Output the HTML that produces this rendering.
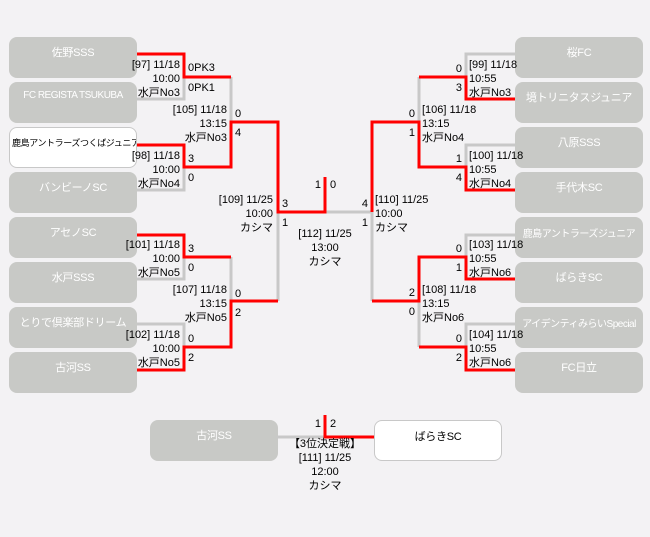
<!DOCTYPE html>
<html><head><meta charset="utf-8"><style>
html,body{margin:0;padding:0;background:#f3f2f4;}
body{width:650px;height:537px;position:relative;overflow:hidden;font-family:"Liberation Sans","Noto Sans CJK JP",sans-serif;}
.b{position:absolute;width:128px;height:41px;border-radius:8px;background:#c8c9c6;color:#fff;font-size:11px;text-align:center;box-sizing:border-box;padding-top:7px;white-space:nowrap;overflow:hidden;letter-spacing:-0.3px;}
.s{font-size:10px;letter-spacing:-0.5px;padding-top:8px;}
.w{background:#fff;border:1px solid #c8c8c8;color:#000;}
svg{position:absolute;left:0;top:0;}
svg text{font-family:"Liberation Sans","Noto Sans CJK JP",sans-serif;font-size:11px;fill:#000;}
</style></head><body>
<div class="b" style="left:9px;top:37px">佐野SSS</div>
<div class="b s" style="left:9px;top:82px">FC REGISTA TSUKUBA</div>
<div class="b w s" style="left:9px;top:127px;text-align:left;padding-left:2px;font-size:9px;letter-spacing:-0.4px">鹿島アントラーズつくばジュニア</div>
<div class="b" style="left:9px;top:172px">バンビーノSC</div>
<div class="b" style="left:9px;top:217px">アセノSC</div>
<div class="b" style="left:9px;top:262px">水戸SSS</div>
<div class="b" style="left:9px;top:307px">とりで倶楽部ドリーム</div>
<div class="b" style="left:9px;top:352px">古河SS</div>
<div class="b" style="left:515px;top:37px">桜FC</div>
<div class="b" style="left:515px;top:82px">境トリニタスジュニア</div>
<div class="b" style="left:515px;top:127px">八原SSS</div>
<div class="b" style="left:515px;top:172px">手代木SC</div>
<div class="b s" style="left:515px;top:217px">鹿島アントラーズジュニア</div>
<div class="b" style="left:515px;top:262px">ばらきSC</div>
<div class="b s" style="left:515px;top:307px">アイデンティみらいSpecial</div>
<div class="b" style="left:515px;top:352px">FC日立</div>
<div class="b" style="left:150px;top:420px">古河SS</div>
<div class="b w" style="left:374px;top:420px">ばらきSC</div>
<svg width="650" height="537" fill="none" stroke-width="3">
<g stroke="#c8c8c8">
<path d="M137 99H184V77"/><path d="M137 190H184V167"/><path d="M231 77V122"/>
<path d="M137 279H184V257"/><path d="M137 324H184V347"/><path d="M231 257V301"/>
<path d="M278 212V301"/><path d="M325 212H372V301"/>
<path d="M515 54H466V77"/><path d="M515 145H466V167"/><path d="M419 77V122"/>
<path d="M515 235H466V257"/><path d="M515 324H466V347"/><path d="M419 301V347"/>
<path d="M277 437H325"/>
</g>
<g stroke="#f00">
<path d="M137 54H184V77H231"/><path d="M137 145H184V167H231V122H278V212H325V177"/>
<path d="M137 235H184V257H231"/><path d="M137 370H184V347H231V301H278"/>
<path d="M515 99H466V77H419"/><path d="M515 190H466V167H419V122H372V212"/>
<path d="M515 279H466V257H419V301H372"/><path d="M515 370H466V347H419"/>
<path d="M325 415V437H374"/>
</g>
<g stroke="none">
<g text-anchor="end">
<text x="180" y="68">[97] 11/18</text><text x="180" y="82">10:00</text><text x="180" y="96">水戸No3</text>
<text x="180" y="159">[98] 11/18</text><text x="180" y="173">10:00</text><text x="180" y="187">水戸No4</text>
<text x="180" y="248">[101] 11/18</text><text x="180" y="262">10:00</text><text x="180" y="276">水戸No5</text>
<text x="180" y="338">[102] 11/18</text><text x="180" y="352">10:00</text><text x="180" y="366">水戸No5</text>
<text x="227" y="113">[105] 11/18</text><text x="227" y="127">13:15</text><text x="227" y="141">水戸No3</text>
<text x="227" y="293">[107] 11/18</text><text x="227" y="307">13:15</text><text x="227" y="321">水戸No5</text>
<text x="273" y="203">[109] 11/25</text><text x="273" y="217">10:00</text><text x="273" y="231">カシマ</text>
<text x="462" y="72">0</text><text x="462" y="91">3</text>
<text x="462" y="162">1</text><text x="462" y="181">4</text>
<text x="462" y="252">0</text><text x="462" y="271">1</text>
<text x="462" y="342">0</text><text x="462" y="361">2</text>
<text x="415" y="117">0</text><text x="415" y="136">1</text>
<text x="415" y="296">2</text><text x="415" y="315">0</text>
<text x="368" y="207">4</text><text x="368" y="226">1</text>
<text x="321" y="188">1</text><text x="321" y="427">1</text>
</g>
<text x="188" y="71">0PK3</text><text x="188" y="91">0PK1</text>
<text x="188" y="162">3</text><text x="188" y="181">0</text>
<text x="188" y="252">3</text><text x="188" y="271">0</text>
<text x="188" y="342">0</text><text x="188" y="361">2</text>
<text x="235" y="117">0</text><text x="235" y="136">4</text>
<text x="235" y="297">0</text><text x="235" y="316">2</text>
<text x="282" y="207">3</text><text x="282" y="226">1</text>
<text x="330" y="188">0</text><text x="330" y="427">2</text>
<text x="469" y="68">[99] 11/18</text><text x="469" y="82">10:55</text><text x="469" y="96">水戸No3</text>
<text x="469" y="159">[100] 11/18</text><text x="469" y="173">10:55</text><text x="469" y="187">水戸No4</text>
<text x="469" y="248">[103] 11/18</text><text x="469" y="262">10:55</text><text x="469" y="276">水戸No6</text>
<text x="469" y="338">[104] 11/18</text><text x="469" y="352">10:55</text><text x="469" y="366">水戸No6</text>
<text x="422" y="113">[106] 11/18</text><text x="422" y="127">13:15</text><text x="422" y="141">水戸No4</text>
<text x="422" y="293">[108] 11/18</text><text x="422" y="307">13:15</text><text x="422" y="321">水戸No6</text>
<text x="375" y="203">[110] 11/25</text><text x="375" y="217">10:00</text><text x="375" y="231">カシマ</text>
<g text-anchor="middle">
<text x="325" y="237">[112] 11/25</text><text x="325" y="251">13:00</text><text x="325" y="265">カシマ</text>
<text x="325" y="447">【3位決定戦】</text><text x="325" y="461">[111] 11/25</text><text x="325" y="475">12:00</text><text x="325" y="489">カシマ</text>
</g>
</g>
</svg>
</body></html>
